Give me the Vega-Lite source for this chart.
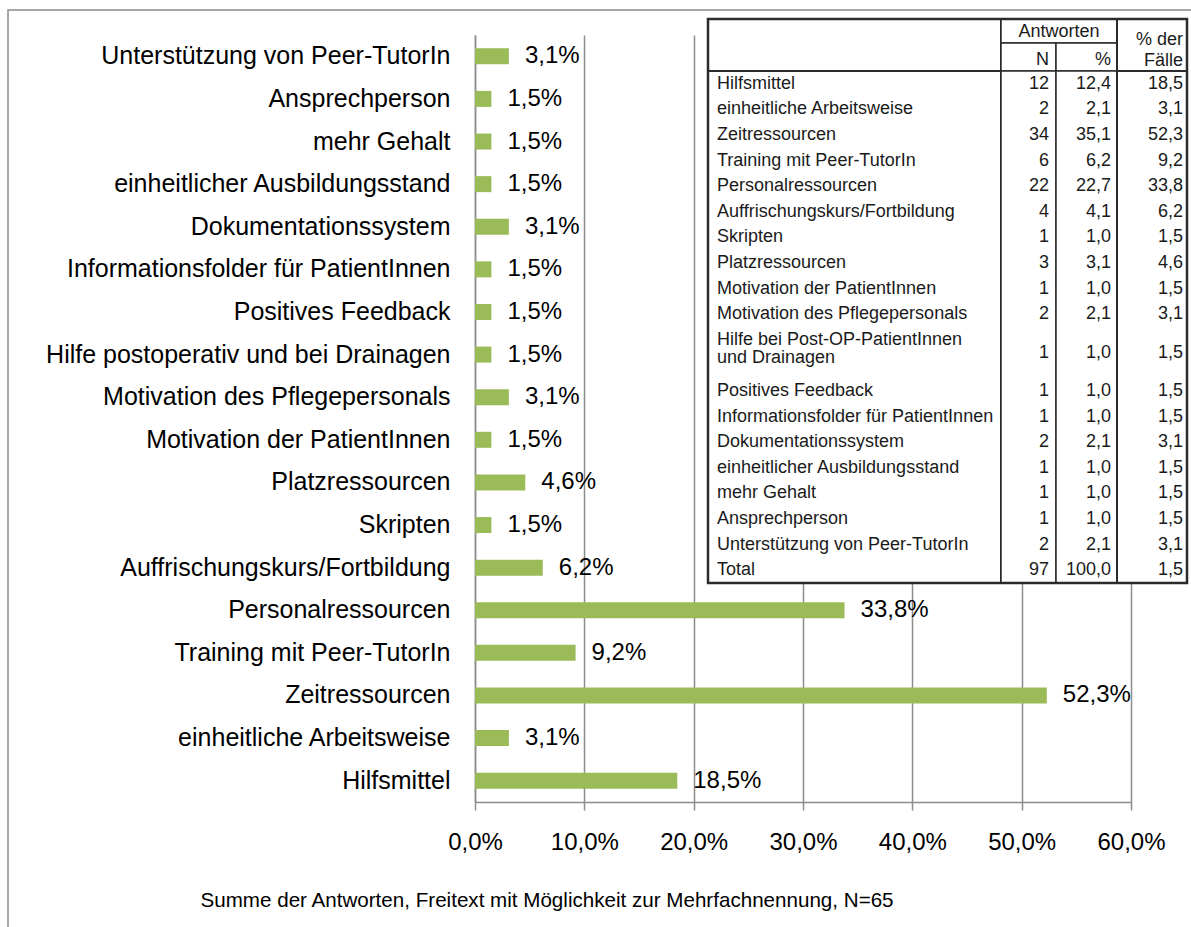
{
  "$schema": "https://vega.github.io/schema/vega-lite/v6.json",
  "width": 656,
  "height": 767,
  "autosize": {"type": "none"},
  "padding": {"left": 475, "top": 35, "right": 60, "bottom": 125},
  "background": "#ffffff",
  "config": {
    "view": {"stroke": null},
    "locale": {"number": {"decimal": ",", "thousands": ".", "grouping": [3], "currency": ["", " €"]}},
    "text": {"font": "Liberation Sans"}
  },
  "datasets": {
    "antworten": [
      {"massnahme": "Hilfsmittel", "anteil": 0.185},
      {"massnahme": "einheitliche Arbeitsweise", "anteil": 0.031},
      {"massnahme": "Zeitressourcen", "anteil": 0.523},
      {"massnahme": "Training mit Peer-TutorIn", "anteil": 0.092},
      {"massnahme": "Personalressourcen", "anteil": 0.338},
      {"massnahme": "Auffrischungskurs/Fortbildung", "anteil": 0.062},
      {"massnahme": "Skripten", "anteil": 0.015},
      {"massnahme": "Platzressourcen", "anteil": 0.046},
      {"massnahme": "Motivation der PatientInnen", "anteil": 0.015},
      {"massnahme": "Motivation des Pflegepersonals", "anteil": 0.031},
      {"massnahme": "Hilfe postoperativ und bei Drainagen", "anteil": 0.015},
      {"massnahme": "Positives Feedback", "anteil": 0.015},
      {"massnahme": "Informationsfolder für PatientInnen", "anteil": 0.015},
      {"massnahme": "Dokumentationssystem", "anteil": 0.031},
      {"massnahme": "einheitlicher Ausbildungsstand", "anteil": 0.015},
      {"massnahme": "mehr Gehalt", "anteil": 0.015},
      {"massnahme": "Ansprechperson", "anteil": 0.015},
      {"massnahme": "Unterstützung von Peer-TutorIn", "anteil": 0.031}
    ],
    "tabelle": [
      {"zeile": "Hilfsmittel", "N": 12, "prozent": 12.4, "faelle": 18.5, "zeilen": 1},
      {"zeile": "einheitliche Arbeitsweise", "N": 2, "prozent": 2.1, "faelle": 3.1, "zeilen": 1},
      {"zeile": "Zeitressourcen", "N": 34, "prozent": 35.1, "faelle": 52.3, "zeilen": 1},
      {"zeile": "Training mit Peer-TutorIn", "N": 6, "prozent": 6.2, "faelle": 9.2, "zeilen": 1},
      {"zeile": "Personalressourcen", "N": 22, "prozent": 22.7, "faelle": 33.8, "zeilen": 1},
      {"zeile": "Auffrischungskurs/Fortbildung", "N": 4, "prozent": 4.1, "faelle": 6.2, "zeilen": 1},
      {"zeile": "Skripten", "N": 1, "prozent": 1.0, "faelle": 1.5, "zeilen": 1},
      {"zeile": "Platzressourcen", "N": 3, "prozent": 3.1, "faelle": 4.6, "zeilen": 1},
      {"zeile": "Motivation der PatientInnen", "N": 1, "prozent": 1.0, "faelle": 1.5, "zeilen": 1},
      {"zeile": "Motivation des Pflegepersonals", "N": 2, "prozent": 2.1, "faelle": 3.1, "zeilen": 1},
      {"zeile": "Hilfe bei Post-OP-PatientInnen\nund Drainagen", "N": 1, "prozent": 1.0, "faelle": 1.5, "zeilen": 2},
      {"zeile": "Positives Feedback", "N": 1, "prozent": 1.0, "faelle": 1.5, "zeilen": 1},
      {"zeile": "Informationsfolder für PatientInnen", "N": 1, "prozent": 1.0, "faelle": 1.5, "zeilen": 1},
      {"zeile": "Dokumentationssystem", "N": 2, "prozent": 2.1, "faelle": 3.1, "zeilen": 1},
      {"zeile": "einheitlicher Ausbildungsstand", "N": 1, "prozent": 1.0, "faelle": 1.5, "zeilen": 1},
      {"zeile": "mehr Gehalt", "N": 1, "prozent": 1.0, "faelle": 1.5, "zeilen": 1},
      {"zeile": "Ansprechperson", "N": 1, "prozent": 1.0, "faelle": 1.5, "zeilen": 1},
      {"zeile": "Unterstützung von Peer-TutorIn", "N": 2, "prozent": 2.1, "faelle": 3.1, "zeilen": 1},
      {"zeile": "Total", "N": 97, "prozent": 100.0, "faelle": 1.5, "zeilen": 1}
    ],
    "kopfzellen": [
      {"zelle": "leer", "beschriftung": ""},
      {"zelle": "Antworten", "beschriftung": "Antworten"},
      {"zelle": "N", "beschriftung": "N"},
      {"zelle": "Prozent", "beschriftung": "%"},
      {"zelle": "Faelle", "beschriftung": "% der\nFälle"}
    ],
    "spalten": [
      {"spalte": "Kategorie"},
      {"spalte": "N"},
      {"spalte": "Prozent"},
      {"spalte": "Faelle"}
    ],
    "rahmen": [
      {"element": "Diagrammbereich"},
      {"element": "Tabelle"}
    ]
  },
  "layer": [
    {
      "data": {"name": "rahmen"},
      "transform": [{"filter": "datum.element === 'Diagrammbereich'"}],
      "mark": {"type": "rect", "filled": false, "stroke": "#8c8c8c", "strokeWidth": 1.5},
      "encoding": {
        "x": {"datum": 0, "type": "quantitative", "scale": {"domain": [0, 1], "range": [-467, 760], "nice": false, "zero": false}, "axis": null},
        "x2": {"datum": 1},
        "y": {"datum": 0, "type": "quantitative", "scale": {"domain": [0, 1], "range": [-25, 940], "nice": false, "zero": false}, "axis": null},
        "y2": {"datum": 1}
      }
    },
    {
      "data": {"name": "antworten"},
      "encoding": {
        "y": {
          "field": "massnahme", "type": "nominal",
          "sort": ["Unterstützung von Peer-TutorIn", "Ansprechperson", "mehr Gehalt", "einheitlicher Ausbildungsstand", "Dokumentationssystem", "Informationsfolder für PatientInnen", "Positives Feedback", "Hilfe postoperativ und bei Drainagen", "Motivation des Pflegepersonals", "Motivation der PatientInnen", "Platzressourcen", "Skripten", "Auffrischungskurs/Fortbildung", "Personalressourcen", "Training mit Peer-TutorIn", "Zeitressourcen", "einheitliche Arbeitsweise", "Hilfsmittel"],
          "scale": {"paddingInner": 0, "paddingOuter": 0},
          "axis": {"title": null, "domain": true, "domainColor": "#8c8c8c", "domainWidth": 1.5, "ticks": false, "grid": false, "labelPadding": 25, "labelFontSize": 25, "labelFont": "Liberation Sans", "labelColor": "#000000", "labelLimit": 700}
        },
        "x": {
          "field": "anteil", "type": "quantitative",
          "scale": {"domain": [0, 0.6], "nice": false},
          "axis": {
            "values": [0, 0.1, 0.2, 0.3, 0.4, 0.5, 0.6], "format": ".1%",
            "grid": true, "gridColor": "#8c8c8c", "gridWidth": 1.5,
            "domainColor": "#8c8c8c", "domainWidth": 1.5,
            "tickColor": "#8c8c8c", "tickWidth": 1.5, "tickSize": 8,
            "labelPadding": 20, "labelFontSize": 24, "labelFont": "Liberation Sans", "labelColor": "#000000", "labelFlush": false, "labelOverlap": false,
            "title": "Summe der Antworten, Freitext mit Möglichkeit zur Mehrfachnennung, N=65",
            "titleFont": "Liberation Sans", "titleFontSize": 20.6, "titleFontWeight": "normal", "titleColor": "#000000",
            "titleAnchor": "start", "titleAlign": "left", "titleBaseline": "middle", "titleX": -275, "titleY": 98
          }
        }
      },
      "layer": [
        {"mark": {"type": "bar", "color": "#9BBB59", "size": 16}},
        {"mark": {"type": "text", "align": "left", "baseline": "middle", "dx": 16, "fontSize": 24, "font": "Liberation Sans", "color": "#000000"},
         "encoding": {"text": {"field": "anteil", "format": ".1%"}}}
      ]
    },
    {
      "data": {"name": "kopfzellen"},
      "transform": [{"filter": "datum.zelle === 'leer'"}],
      "mark": {"type": "rect", "fill": "#ffffff", "stroke": "#2b2b2b", "strokeWidth": 2},
      "encoding": {
        "x": {"datum": 0, "type": "quantitative", "scale": {"domain": [0, 1], "range": [233, 526], "nice": false, "zero": false}, "axis": null},
        "x2": {"datum": 1},
        "y": {"datum": 0, "type": "quantitative", "scale": {"domain": [0, 1], "range": [-16, 36], "nice": false, "zero": false}, "axis": null},
        "y2": {"datum": 1}
      }
    },
    {
      "data": {"name": "kopfzellen"},
      "transform": [{"filter": "datum.zelle === 'Antworten'"}],
      "layer": [
        {"mark": {"type": "rect", "fill": "#ffffff", "stroke": "#2b2b2b", "strokeWidth": 1.5},
         "encoding": {
           "x": {"datum": 0, "type": "quantitative", "scale": {"domain": [0, 1], "range": [526, 642], "nice": false, "zero": false}, "axis": null},
           "x2": {"datum": 1},
           "y": {"datum": 0, "type": "quantitative", "scale": {"domain": [0, 1], "range": [-16, 8], "nice": false, "zero": false}, "axis": null},
           "y2": {"datum": 1}}},
        {"mark": {"type": "text", "align": "center", "baseline": "middle", "dy": 1, "font": "Liberation Sans", "fontSize": 18, "color": "#1a1a1a"},
         "encoding": {
           "x": {"datum": 0.5, "type": "quantitative", "axis": null},
           "y": {"datum": 0.5, "type": "quantitative", "axis": null},
           "text": {"field": "beschriftung"}}}
      ]
    },
    {
      "data": {"name": "kopfzellen"},
      "transform": [{"filter": "datum.zelle === 'N'"}],
      "layer": [
        {"mark": {"type": "rect", "fill": "#ffffff", "stroke": "#2b2b2b", "strokeWidth": 1.5},
         "encoding": {
           "x": {"datum": 0, "type": "quantitative", "scale": {"domain": [0, 1], "range": [526, 581], "nice": false, "zero": false}, "axis": null},
           "x2": {"datum": 1},
           "y": {"datum": 0, "type": "quantitative", "scale": {"domain": [0, 1], "range": [8, 36], "nice": false, "zero": false}, "axis": null},
           "y2": {"datum": 1}}},
        {"mark": {"type": "text", "align": "right", "baseline": "middle", "dx": -7, "dy": 3, "font": "Liberation Sans", "fontSize": 18, "color": "#1a1a1a"},
         "encoding": {
           "x": {"datum": 1, "type": "quantitative", "axis": null},
           "y": {"datum": 0.5, "type": "quantitative", "axis": null},
           "text": {"field": "beschriftung"}}}
      ]
    },
    {
      "data": {"name": "kopfzellen"},
      "transform": [{"filter": "datum.zelle === 'Prozent'"}],
      "layer": [
        {"mark": {"type": "rect", "fill": "#ffffff", "stroke": "#2b2b2b", "strokeWidth": 1.5},
         "encoding": {
           "x": {"datum": 0, "type": "quantitative", "scale": {"domain": [0, 1], "range": [581, 642], "nice": false, "zero": false}, "axis": null},
           "x2": {"datum": 1},
           "y": {"datum": 0, "type": "quantitative", "scale": {"domain": [0, 1], "range": [8, 36], "nice": false, "zero": false}, "axis": null},
           "y2": {"datum": 1}}},
        {"mark": {"type": "text", "align": "right", "baseline": "middle", "dx": -6, "dy": 3, "font": "Liberation Sans", "fontSize": 18, "color": "#1a1a1a"},
         "encoding": {
           "x": {"datum": 1, "type": "quantitative", "axis": null},
           "y": {"datum": 0.5, "type": "quantitative", "axis": null},
           "text": {"field": "beschriftung"}}}
      ]
    },
    {
      "data": {"name": "kopfzellen"},
      "transform": [{"filter": "datum.zelle === 'Faelle'"}],
      "layer": [
        {"mark": {"type": "rect", "fill": "#ffffff", "stroke": "#2b2b2b", "strokeWidth": 2},
         "encoding": {
           "x": {"datum": 0, "type": "quantitative", "scale": {"domain": [0, 1], "range": [642, 712], "nice": false, "zero": false}, "axis": null},
           "x2": {"datum": 1},
           "y": {"datum": 0, "type": "quantitative", "scale": {"domain": [0, 1], "range": [-16, 36], "nice": false, "zero": false}, "axis": null},
           "y2": {"datum": 1}}},
        {"mark": {"type": "text", "align": "right", "baseline": "middle", "dx": -4, "dy": -5, "lineBreak": "\n", "lineHeight": 21, "font": "Liberation Sans", "fontSize": 18, "color": "#1a1a1a"},
         "encoding": {
           "x": {"datum": 1, "type": "quantitative", "axis": null},
           "y": {"datum": 0.5, "type": "quantitative", "axis": null},
           "text": {"field": "beschriftung"}}}
      ]
    },
    {
      "data": {"name": "spalten"},
      "encoding": {
        "y": {"datum": 0, "type": "quantitative", "scale": {"domain": [0, 1], "range": [36, 548], "nice": false, "zero": false}, "axis": null},
        "y2": {"datum": 1}
      },
      "layer": [
        {"transform": [{"filter": "datum.spalte === 'Kategorie'"}],
         "mark": {"type": "rect", "fill": "#ffffff", "stroke": "#2b2b2b", "strokeWidth": 2},
         "encoding": {"x": {"datum": 0, "type": "quantitative", "scale": {"domain": [0, 1], "range": [233, 526], "nice": false, "zero": false}, "axis": null}, "x2": {"datum": 1}}},
        {"transform": [{"filter": "datum.spalte === 'N'"}],
         "mark": {"type": "rect", "fill": "#ffffff", "stroke": "#2b2b2b", "strokeWidth": 1.5},
         "encoding": {"x": {"datum": 0, "type": "quantitative", "scale": {"domain": [0, 1], "range": [526, 581], "nice": false, "zero": false}, "axis": null}, "x2": {"datum": 1}}},
        {"transform": [{"filter": "datum.spalte === 'Prozent'"}],
         "mark": {"type": "rect", "fill": "#ffffff", "stroke": "#2b2b2b", "strokeWidth": 1.5},
         "encoding": {"x": {"datum": 0, "type": "quantitative", "scale": {"domain": [0, 1], "range": [581, 642], "nice": false, "zero": false}, "axis": null}, "x2": {"datum": 1}}},
        {"transform": [{"filter": "datum.spalte === 'Faelle'"}],
         "mark": {"type": "rect", "fill": "#ffffff", "stroke": "#2b2b2b", "strokeWidth": 2},
         "encoding": {"x": {"datum": 0, "type": "quantitative", "scale": {"domain": [0, 1], "range": [642, 712], "nice": false, "zero": false}, "axis": null}, "x2": {"datum": 1}}}
      ],
      "resolve": {"scale": {"x": "independent"}}
    },
    {
      "data": {"name": "tabelle"},
      "encoding": {
        "y": {
          "field": "zeile", "type": "nominal",
          "scale": {
            "domain": ["Hilfsmittel", "einheitliche Arbeitsweise", "Zeitressourcen", "Training mit Peer-TutorIn", "Personalressourcen", "Auffrischungskurs/Fortbildung", "Skripten", "Platzressourcen", "Motivation der PatientInnen", "Motivation des Pflegepersonals", "Hilfe bei Post-OP-PatientInnen\nund Drainagen", "(Folgezeile)", "Positives Feedback", "Informationsfolder für PatientInnen", "Dokumentationssystem", "einheitlicher Ausbildungsstand", "mehr Gehalt", "Ansprechperson", "Unterstützung von Peer-TutorIn", "Total"],
            "range": [36, 548], "paddingInner": 0, "paddingOuter": 0
          },
          "axis": null
        }
      },
      "layer": [
        {"mark": {"type": "text", "align": "left", "baseline": "middle", "dx": 9, "lineBreak": "\n", "lineHeight": 18, "font": "Liberation Sans", "fontSize": 18, "color": "#1a1a1a"},
         "encoding": {
           "x": {"datum": 0, "type": "quantitative", "scale": {"domain": [0, 1], "range": [233, 526], "nice": false, "zero": false}, "axis": null},
           "text": {"field": "zeile"}}},
        {"mark": {"type": "text", "align": "right", "baseline": "middle", "dx": -7, "font": "Liberation Sans", "fontSize": 18, "color": "#1a1a1a"},
         "encoding": {
           "x": {"datum": 1, "type": "quantitative", "scale": {"domain": [0, 1], "range": [526, 581], "nice": false, "zero": false}, "axis": null},
           "yOffset": {"field": "zeilen", "type": "quantitative", "scale": {"domain": [0, 2], "range": [0, 25.6]}},
           "text": {"field": "N", "format": "d"}}},
        {"mark": {"type": "text", "align": "right", "baseline": "middle", "dx": -6, "font": "Liberation Sans", "fontSize": 18, "color": "#1a1a1a"},
         "encoding": {
           "x": {"datum": 1, "type": "quantitative", "scale": {"domain": [0, 1], "range": [581, 642], "nice": false, "zero": false}, "axis": null},
           "yOffset": {"field": "zeilen", "type": "quantitative", "scale": {"domain": [0, 2], "range": [0, 25.6]}},
           "text": {"field": "prozent", "format": ".1f"}}},
        {"mark": {"type": "text", "align": "right", "baseline": "middle", "dx": -4, "font": "Liberation Sans", "fontSize": 18, "color": "#1a1a1a"},
         "encoding": {
           "x": {"datum": 1, "type": "quantitative", "scale": {"domain": [0, 1], "range": [642, 712], "nice": false, "zero": false}, "axis": null},
           "yOffset": {"field": "zeilen", "type": "quantitative", "scale": {"domain": [0, 2], "range": [0, 25.6]}},
           "text": {"field": "faelle", "format": ".1f"}}}
      ],
      "resolve": {"scale": {"x": "independent"}}
    },
    {
      "data": {"name": "rahmen"},
      "transform": [{"filter": "datum.element === 'Tabelle'"}],
      "mark": {"type": "rect", "filled": false, "stroke": "#2b2b2b", "strokeWidth": 2.5},
      "encoding": {
        "x": {"datum": 0, "type": "quantitative", "scale": {"domain": [0, 1], "range": [233, 712], "nice": false, "zero": false}, "axis": null},
        "x2": {"datum": 1},
        "y": {"datum": 0, "type": "quantitative", "scale": {"domain": [0, 1], "range": [-16, 548], "nice": false, "zero": false}, "axis": null},
        "y2": {"datum": 1}
      }
    }
  ],
  "resolve": {"scale": {"x": "independent", "y": "independent"}}
}
